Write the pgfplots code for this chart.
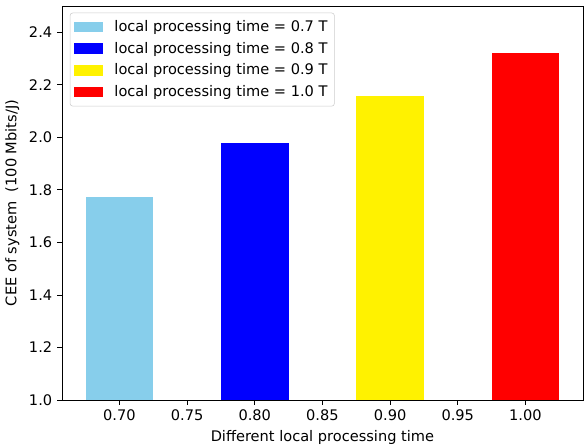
\documentclass[border=0pt]{standalone}
\usepackage{pgfplots}
\pgfplotsset{compat=1.18}
\usepackage{fontspec}
\setmainfont{DejaVu Sans}
\definecolor{skyblue}{HTML}{87CEEB}
\begin{document}
\begin{tikzpicture}
\path[use as bounding box] (-44.6pt,-32.4pt) rectangle (376.6pt,288pt);
\begin{axis}[
  at={(0,0)}, anchor=south west,
  scale only axis, width=375.1pt, height=283.7pt,
  xmin=0.6575, xmax=1.0425, ymin=1, ymax=2.5,
  xtick={0.70,0.75,0.80,0.85,0.90,0.95,1.00},
  ytick={1.0,1.2,1.4,1.6,1.8,2.0,2.2,2.4},
  xticklabel style={/pgf/number format/.cd, fixed, fixed zerofill, precision=2},
  yticklabel style={/pgf/number format/.cd, fixed, fixed zerofill, precision=1},
  /pgf/number format/assume math mode=true,
  tick align=outside, tick pos=left,
  major tick length=3.5pt,
  tick style={black, line width=0.6pt},
  axis line style={line width=0.6pt},
  ticklabel style={font=\fontsize{10.5}{12.5}\selectfont},
  label style={font=\fontsize{10.5}{12.5}\selectfont},
  xlabel={Different local processing time},
  ylabel={CEE of system\ \ (100 Mbits/J)},
  ybar, bar width=0.05, bar shift=0pt,
  legend style={at={(0.015,0.983)}, anchor=north west, draw=black!20,
    rounded corners=2pt, font=\fontsize{10.5}{12.5}\selectfont,
    row sep=2.2pt, inner xsep=3pt, inner ysep=3.3pt, cells={anchor=west}},
  legend image code/.code={\fill[#1, sharp corners] (0pt,-3.8pt) rectangle (20.5pt,3.8pt); \path (27pt,0pt);},
]
\addplot[fill=skyblue, draw=none] coordinates {(0.70,1.773)};
\addplot[fill=blue, draw=none] coordinates {(0.80,1.977)};
\addplot[fill=yellow, draw=none] coordinates {(0.90,2.158)};
\addplot[fill=red, draw=none] coordinates {(1.00,2.321)};
\legend{local processing time = 0.7 T, local processing time = 0.8 T, local processing time = 0.9 T, local processing time = 1.0 T}
\end{axis}
\end{tikzpicture}
\end{document}
